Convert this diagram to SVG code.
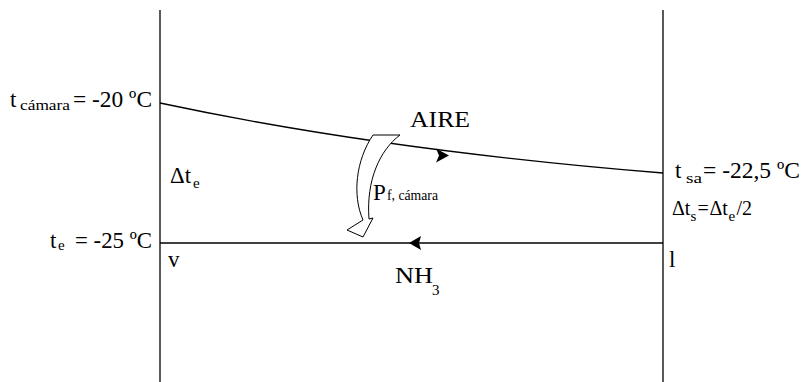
<svg xmlns="http://www.w3.org/2000/svg" width="802" height="382" viewBox="0 0 802 382">
<style>
.b{font-size:23px}
.m{font-size:20px}
.s{font-size:15px}
.ln{stroke:#000;stroke-width:1.3;fill:none}
</style>
<rect width="802" height="382" fill="#fff"/>
<g id="connectors">
<line class="ln" x1="160" y1="10" x2="160" y2="382"/>
<line class="ln" x1="663" y1="10" x2="663" y2="382"/>
<path class="ln" d="M160,103 Q380,150 663,173"/>
<line class="ln" x1="160" y1="243" x2="663" y2="243"/>
<path d="M436,148.5 L449,155.5 L436,162.5 L439,155.5 Z" fill="#000"/>
<path d="M421,236 L409,243 L421,250 L419,243 Z" fill="#000"/>
</g>
<g id="heat-arrow">
<path d="M373,135 L400,135 C380,150 366,180 369,219 L373,218 L363,237 L347,230 L363,220 C352,195 356,160 373,135 Z" fill="#fff" stroke="#000" stroke-width="1"/>
</g>
<g id="labels" font-family="'Liberation Serif', 'Times New Roman', serif" fill="#000">
<text x="10" y="107" class="b">t</text><text x="20" y="110" class="s" textLength="50" lengthAdjust="spacingAndGlyphs">cámara</text><text x="73" y="107" class="b" textLength="79" lengthAdjust="spacingAndGlyphs">= -20 ºC</text>
<text x="410" y="127" class="b" textLength="60" lengthAdjust="spacingAndGlyphs">AIRE</text>
<text x="373" y="200" class="b">P</text><text x="387" y="200" class="s" textLength="51" lengthAdjust="spacingAndGlyphs">f, cámara</text>
<text x="170" y="183" class="b" textLength="21" lengthAdjust="spacingAndGlyphs">Δt</text><text x="193" y="188" class="s">e</text>
<text x="675" y="178" class="b">t</text><text x="686" y="183" class="s" textLength="16" lengthAdjust="spacingAndGlyphs">sa</text><text x="703" y="178" class="b" textLength="97" lengthAdjust="spacingAndGlyphs">= -22,5 ºC</text>
<text x="672" y="215" class="m">Δt</text><text x="690.5" y="221" class="s">s</text><text x="697.5" y="215" class="m">=</text><text x="709.5" y="215" class="m">Δt</text><text x="728.5" y="221" class="s">e</text><text x="736.5" y="215" class="m">/2</text>
<text x="50" y="248" class="b">t</text><text x="58" y="250" class="s">e</text><text x="75" y="248" class="b" textLength="77" lengthAdjust="spacingAndGlyphs">= -25 ºC</text>
<text x="168" y="267" class="b">v</text>
<text x="669" y="267" class="b">l</text>
<text x="395" y="283" class="b" textLength="38" lengthAdjust="spacingAndGlyphs">NH</text><text x="432" y="295" class="s">3</text>
</g>
</svg>
